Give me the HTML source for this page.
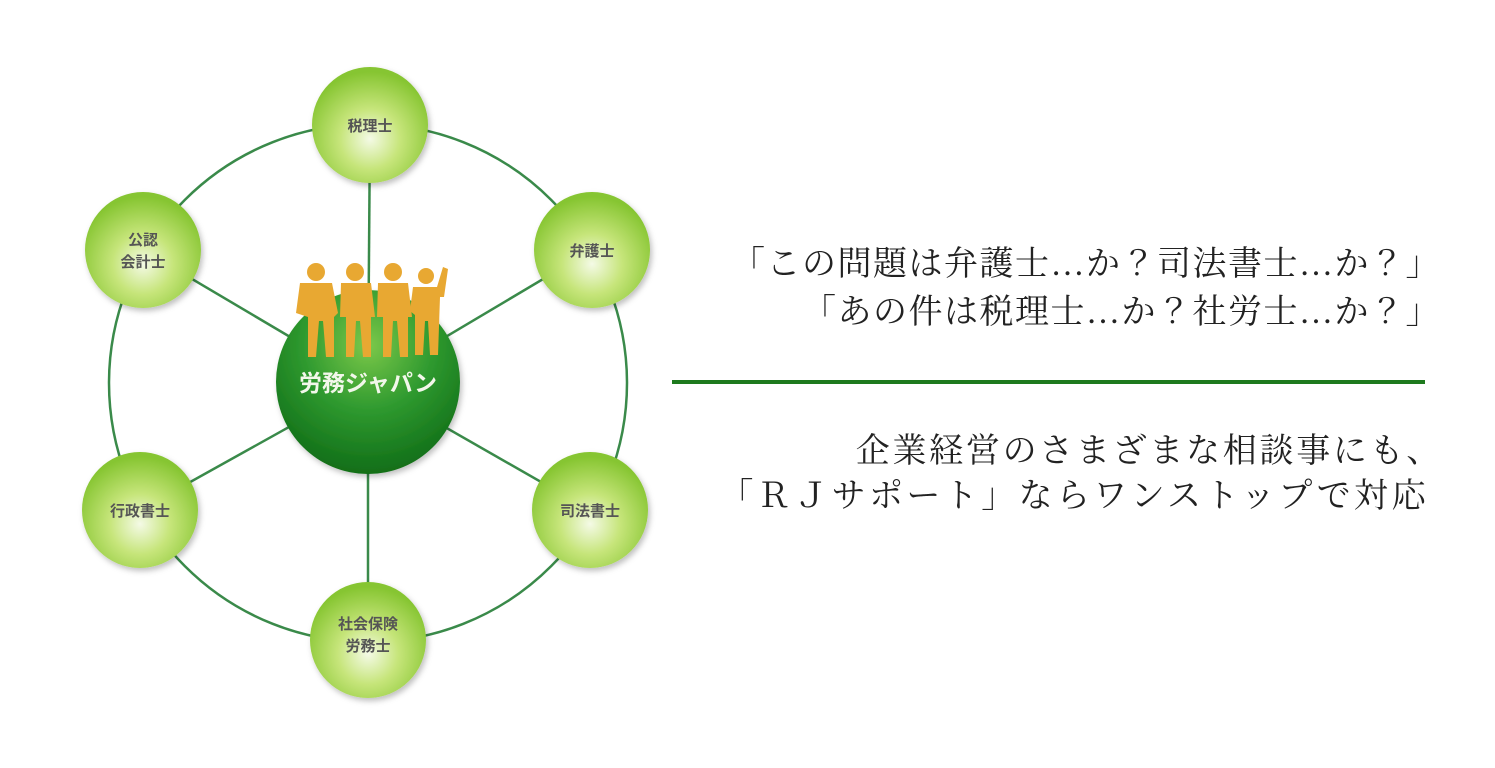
<!DOCTYPE html>
<html><head><meta charset="utf-8"><style>
body{margin:0;width:1495px;height:768px;background:#fff;position:relative;overflow:hidden}
.t{position:absolute;right:54px;font-family:"Liberation Serif","Noto Serif CJK JP","Noto Serif CJK SC",serif;font-size:34px;line-height:34px;color:#222;white-space:nowrap;letter-spacing:1.5px;text-align:right}
.hr{position:absolute;left:672px;top:380px;width:753px;height:4px;background:#1e7a1e}
</style></head><body>
<svg width="700" height="768" style="position:absolute;left:0;top:0">
<defs>
<radialGradient id="g" cx="50%" cy="62%" r="58%">
<stop offset="0" stop-color="#f4fae6"/><stop offset="0.45" stop-color="#c6e57a"/><stop offset="1" stop-color="#86c531"/></radialGradient>
<radialGradient id="c" cx="50%" cy="30%" r="70%">
<stop offset="0" stop-color="#7cc84a"/><stop offset="0.5" stop-color="#2f9a2f"/><stop offset="1" stop-color="#116e18"/></radialGradient>
<filter id="s" x="-20%" y="-20%" width="150%" height="150%"><feDropShadow dx="2" dy="3" stdDeviation="3" flood-color="#000" flood-opacity="0.25"/></filter>
</defs>
<circle cx="368" cy="383" r="259" fill="none" stroke="#3a8a4a" stroke-width="2.5"/>
<g stroke="#3a8a4a" stroke-width="2.5">
<line x1="368" y1="383" x2="370" y2="125"/><line x1="368" y1="383" x2="592" y2="250"/>
<line x1="368" y1="383" x2="590" y2="510"/><line x1="368" y1="383" x2="368" y2="640"/>
<line x1="368" y1="383" x2="140" y2="510"/><line x1="368" y1="383" x2="143" y2="250"/></g>
<circle cx="368" cy="382" r="92" fill="url(#c)" filter="url(#s)"/>
<g fill="#e8a832">
<circle cx="316" cy="272" r="9"/><path d="M300 283h32l6 30-4 4v40h-8l-3-36h-4l-3 36h-8v-40l-12-4z"/>
<circle cx="355" cy="272" r="9"/><path d="M341 283h30l4 34h-4v40h-8l-3-36h-4l-2 36h-8v-40h-6z"/>
<circle cx="393" cy="272" r="9"/><path d="M378 283h30l4 34h-4v40h-8l-3-36h-4l-2 36h-8v-40h-6z"/>
<circle cx="426" cy="276" r="8"/><path d="M413 287h24l6-20 5 2-4 28h-4l-2 58h-8l-2-34h-3l-2 34h-8v-40l-5-4z"/>
</g>
<text x="368" y="391" text-anchor="middle" font-family="Liberation Sans,'Noto Sans CJK JP',sans-serif" font-size="23" font-weight="bold" fill="#f2f7ea">労務ジャパン</text>
<g filter="url(#s)" fill="url(#g)">
<circle cx="370" cy="125" r="58"/><circle cx="592" cy="250" r="58"/><circle cx="590" cy="510" r="58"/>
<circle cx="368" cy="640" r="58"/><circle cx="140" cy="510" r="58"/><circle cx="143" cy="250" r="58"/></g>
<g font-family="Liberation Sans,'Noto Sans CJK JP',sans-serif" font-size="15" fill="#555" text-anchor="middle" font-weight="bold">
<text x="370" y="131">税理士</text><text x="592" y="256">弁護士</text><text x="590" y="516">司法書士</text>
<text x="368" y="629">社会保険</text><text x="368" y="651">労務士</text>
<text x="140" y="516">行政書士</text>
<text x="143" y="245">公認</text><text x="143" y="267">会計士</text></g>
</svg>
<div class="t" style="top:248px">「この問題は弁護士…か？司法書士…か？」</div>
<div class="t" style="top:296px">「あの件は税理士…か？社労士…か？」</div>
<div class="hr"></div>
<div class="t" style="top:435px;letter-spacing:2.7px;right:52px">企業経営のさまざまな相談事にも、</div>
<div class="t" style="top:480px;letter-spacing:3.4px;right:66px">「ＲＪサポート」ならワンストップで対応</div>
</body></html>
